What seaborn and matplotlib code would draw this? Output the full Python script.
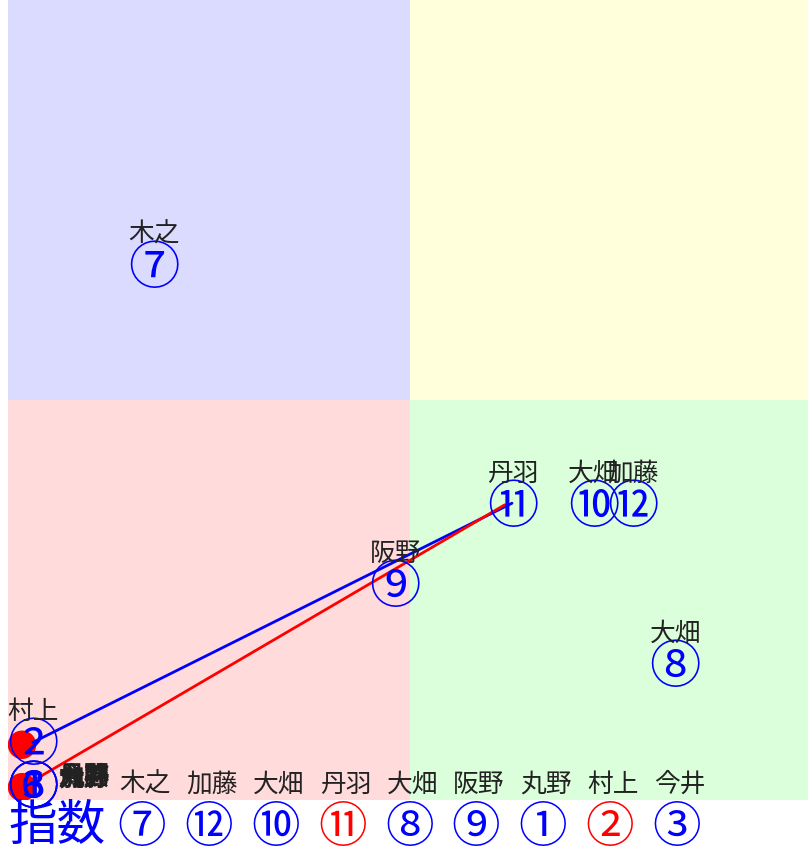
import matplotlib
matplotlib.use("Agg")
import matplotlib.pyplot as plt
import seaborn as sns
import pandas as pd

sns.set_theme(style="white")
plt.rcParams['font.family'] = ['Noto Sans CJK JP', 'DejaVu Sans']

# ---- data ----
names = ["木之", "丹羽", "大畑", "加藤", "阪野", "大畑", "村上"]
marks = ["⑦", "⑪", "⑩", "⑫", "⑨", "⑧", "②"]
xs = [18.25, 63.1, 73.2, 78.1, 48.4, 83.4, 3.1]
ys = [67.0, 37.1, 37.1, 37.1, 27.1, 17.1, 7.3]

cluster_marks = ["①", "③", "⑥"]
cluster_names = ["丸野", "今井", "加藤", "丹羽"]
cluster_x = 3.1
cluster_y = 1.9

red_dot_x = [1.75, 1.75]
red_dot_y = [6.9, 1.6]

seg_id = ["a", "a", "b", "b"]
seg_x = [3.1, 63.0, 1.75, 62.1]
seg_y = [7.2, 37.1, 1.6, 36.9]

bottom_label = "指数"
bottom_marks = ["⑦", "⑫", "⑩", "⑪", "⑧", "⑨", "①", "②", "③"]
bottom_names = ["木之", "加藤", "大畑", "丹羽", "大畑", "阪野", "丸野", "村上", "今井"]
bottom_colors = ["blue", "blue", "blue", "red", "blue", "blue", "blue", "red", "blue"]

W, H = 808, 855
fig = plt.figure(figsize=(W / 100, H / 100), dpi=100)
ax = fig.add_axes([8 / W, 55 / H, 800 / W, 800 / H])

# quadrants
ax.axvspan(0, 50.25, ymin=0.5, ymax=1, color="#dbdbff", lw=0, zorder=0)
ax.axvspan(50.25, 100, ymin=0.5, ymax=1, color="#ffffdb", lw=0, zorder=0)
ax.axvspan(0, 50.25, ymin=0, ymax=0.5, color="#ffdbdb", lw=0, zorder=0)
ax.axvspan(50.25, 100, ymin=0, ymax=0.5, color="#dbffdb", lw=0, zorder=0)

# lines
seg = pd.DataFrame({"seg": seg_id, "x": seg_x, "y": seg_y})
sns.lineplot(data=seg, x="x", y="y", hue="seg", palette=["blue", "red"],
             sort=False, estimator=None, lw=2, legend=False, ax=ax, zorder=3)

# red dots
dots = pd.DataFrame({"x": red_dot_x, "y": red_dot_y})
sns.scatterplot(data=dots, x="x", y="y", color="red", s=420, edgecolor="none",
                ax=ax, zorder=2, legend=False)
for x, y in zip(red_dot_x, red_dot_y):
    ax.text(x, y, "2", color="red", fontsize=18, ha="center", va="center",
            fontweight="bold", zorder=2)
ax.set_xlim(0, 100)
ax.set_ylim(0, 100)
ax.axis("off")

MS = 37   # circled-number size
NS = 18.5 # name size
DY = -0.6 # glyph centering correction

# labelled points
for n, m, x, y in zip(names, marks, xs, ys):
    ax.text(x, y + DY, m, color="blue", fontsize=MS, ha="center", va="center", zorder=4)
    ax.text(x, y + DY + 4.3, n, color="#222222", fontsize=NS, ha="center", va="center", zorder=4)

for m in cluster_marks:
    ax.text(cluster_x, cluster_y + DY, m, color="blue", fontsize=MS, ha="center",
            va="center", zorder=4)
for n in cluster_names:
    ax.text(cluster_x + 3.2, cluster_y + 0.9, n, color="#222222", fontsize=NS,
            ha="left", va="center", fontweight="bold", zorder=4)

# bottom row
fig.text(8 / W, 1 - 826 / H, bottom_label, color="blue", fontsize=35,
         ha="left", va="center")
for i, (m, n, c) in enumerate(zip(bottom_marks, bottom_names, bottom_colors)):
    cx = 142 + i * 66.8
    fig.text(cx / W, 1 - 828 / H, m, color=c, fontsize=35, ha="center", va="center")
    fig.text((cx + 3) / W, 1 - 785 / H, n, color="#222222", fontsize=NS,
             ha="center", va="center")

fig.savefig("out.png", dpi=100)
